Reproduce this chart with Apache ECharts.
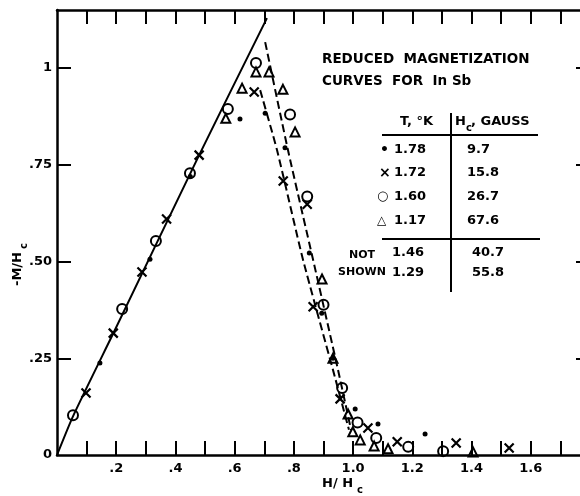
<!DOCTYPE html>
<html>
<head>
<meta charset="utf-8">
<script src="https://cdn.jsdelivr.net/npm/echarts@6/dist/echarts.min.js"></script>
<style>html,body{margin:0;padding:0;background:#fff}#c{width:580px;height:496px}</style>
</head>
<body>
<div id="c"></div>
<script>
// ---- data (H/Hc, -M/Hc) ----
var xTicks = [0.1,0.2,0.3,0.4,0.5,0.6,0.7,0.8,0.9,1.0,1.1,1.2,1.3,1.4,1.5,1.6,1.7];
var xLabels = [0.2,0.4,0.6,0.8,1.0,1.2,1.4,1.6];
var yTicks = [0.25,0.5,0.75,1];
var yLabels = [0,0.25,0.5,0.75,1];

var dots178 = [[0.145,0.238],[0.314,0.506],[0.45,0.72],[0.618,0.868],[0.703,0.883],[0.77,0.794],[0.852,0.522],[0.894,0.366],[0.932,0.25],[1.007,0.119],[1.084,0.08],[1.243,0.054]];
var cross172 = [[0.098,0.16],[0.19,0.315],[0.287,0.473],[0.37,0.61],[0.48,0.775],[0.666,0.938],[0.764,0.708],[0.845,0.648],[0.865,0.383],[0.956,0.145],[1.05,0.07],[1.149,0.034],[1.348,0.031],[1.527,0.018]];
var circle160 = [[0.054,0.103],[0.22,0.377],[0.334,0.553],[0.449,0.728],[0.577,0.894],[0.672,1.013],[0.787,0.88],[0.845,0.668],[0.9,0.388],[0.963,0.173],[1.015,0.084],[1.078,0.044],[1.186,0.021],[1.304,0.01]];
var tri117 = [[0.57,0.87],[0.625,0.948],[0.672,0.99],[0.716,0.99],[0.763,0.945],[0.804,0.835],[0.895,0.455],[0.932,0.25],[0.983,0.106],[0.999,0.06],[1.024,0.039],[1.071,0.023],[1.118,0.016],[1.405,0.008]];
var solidLine = [[0,0],[0.054,0.1],[0.2,0.33],[0.48,0.775],[0.709,1.129]];
var dashLeft = [[0.686,0.943],[0.743,0.788],[0.831,0.504],[0.932,0.22],[0.986,0.065]];
var dashRight = [[0.703,1.067],[0.78,0.788],[0.865,0.504],[0.949,0.22],[0.993,0.065]];

var chart = echarts.init(document.getElementById('c'), null, {renderer:'canvas'});
var F = '"DejaVu Sans", sans-serif';
var axLine = {show:true, onZero:false, lineStyle:{color:'#000', width:2.5}};
var tick = {show:true, inside:true, length:14, lineStyle:{color:'#000', width:2}};
function fmtX(v){ return v < 1 ? '.' + Math.round(v*10) : v.toFixed(1); }
function fmtY(v){ if (v===0) return '0'; if (v===1) return '1'; return '.' + String(Math.round(v*100)).padStart(2,'0'); }
var open = {color:'rgba(0,0,0,0)', borderColor:'#000', borderWidth:2, opacity:1};
function txt(t, x, y, size, align){
  return {type:'text', x:x, y:y, style:{text:t, font:'bold '+size+'px '+F, fill:'#000', textAlign:align||'left', textVerticalAlign:'middle'}};
}
var graphics = [
  txt('REDUCED  MAGNETIZATION', 322, 59, 13.5),
  txt('CURVES  FOR  In Sb', 322, 81, 13.5),
  txt('T, °K', 400, 122, 13),
  txt('H', 455, 122, 13),
  txt('c', 466, 128, 10),
  txt(', GAUSS', 471, 122, 13),
  txt('•', 380, 150, 14), txt('1.78', 394, 150, 13), txt('9.7', 467, 150, 13),
  txt('×', 379, 173, 14), txt('1.72', 394, 173, 13), txt('15.8', 467, 173, 13),
  txt('○', 377, 197, 13), txt('1.60', 394, 197, 13), txt('26.7', 467, 197, 13),
  txt('△', 377, 221, 12), txt('1.17', 394, 221, 13), txt('67.6', 467, 221, 13),
  txt('NOT', 362, 255, 11, 'center'), txt('SHOWN', 362, 272, 11, 'center'),
  txt('1.46', 392, 253, 13), txt('40.7', 472, 253, 13),
  txt('1.29', 392, 273, 13), txt('55.8', 472, 273, 13),
  {type:'line', shape:{x1:382,y1:135,x2:538,y2:135}, style:{stroke:'#000', lineWidth:2}},
  {type:'line', shape:{x1:382,y1:239,x2:540,y2:239}, style:{stroke:'#000', lineWidth:2}},
  {type:'line', shape:{x1:451,y1:113,x2:451,y2:292}, style:{stroke:'#000', lineWidth:2}},
  txt('H/ H', 322, 484, 13),
  txt('c', 357, 490, 10),
  {type:'group', x:18, y:256, rotation:Math.PI/2, children:[
    {type:'text', x:-30, y:0, style:{text:'-M/H', font:'bold 13px '+F, fill:'#000', textAlign:'left', textVerticalAlign:'middle'}},
    {type:'text', x:7, y:6, style:{text:'c', font:'bold 10px '+F, fill:'#000', textAlign:'left', textVerticalAlign:'middle'}}
  ]}
];

var option = {
  animation:false,
  backgroundColor:'#fff',
  grid:{left:57, top:10, width:533, height:445, containLabel:false, outerBoundsMode:'none'},
  xAxis:[
    {type:'value', min:0, max:1.8, interval:0.1, position:'bottom', axisLine:axLine,
     axisTick:Object.assign({customValues:xTicks}, tick), splitLine:{show:false},
     axisLabel:{customValues:xLabels, formatter:fmtX, color:'#000', fontSize:13, fontWeight:'bold', fontFamily:F, margin:7}},
    {type:'value', min:0, max:1.8, interval:0.1, position:'top', axisLine:axLine,
     axisTick:Object.assign({customValues:xTicks}, tick), splitLine:{show:false}, axisLabel:{show:false}}
  ],
  yAxis:[
    {type:'value', min:0, max:1.15, interval:0.25, position:'left', axisLine:axLine,
     axisTick:Object.assign({customValues:yTicks}, tick), splitLine:{show:false},
     axisLabel:{customValues:yLabels, formatter:fmtY, color:'#000', fontSize:13, fontWeight:'bold', fontFamily:F, margin:5}},
    {type:'value', min:0, max:1.15, interval:0.25, position:'right', axisLine:axLine,
     axisTick:Object.assign({customValues:yTicks}, tick), splitLine:{show:false}, axisLabel:{show:false}}
  ],
  series:[
    {type:'line', data:solidLine, smooth:0.2, showSymbol:false, lineStyle:{color:'#000', width:2}, z:1},
    {type:'line', data:dashLeft, smooth:0.2, showSymbol:false, lineStyle:{color:'#000', width:2, type:[8,4]}, z:1},
    {type:'line', data:dashRight, smooth:0.2, showSymbol:false, lineStyle:{color:'#000', width:2, type:[8,4]}, z:1},
    {type:'scatter', name:'1.78', data:dots178, symbol:'circle', symbolSize:5, itemStyle:{color:'#000', opacity:1}, z:3},
    {type:'scatter', name:'1.72', data:cross172, symbol:'path://M0,0L10,10M10,0L0,10', symbolSize:9, itemStyle:{color:'rgba(0,0,0,0)', borderColor:'#000', borderWidth:2.2, opacity:1}, z:3},
    {type:'scatter', name:'1.60', data:circle160, symbol:'circle', symbolSize:10, itemStyle:open, z:3},
    {type:'scatter', name:'1.17', data:tri117, symbol:'triangle', symbolSize:9, itemStyle:open, z:3}
  ],
  graphic:graphics
};
chart.setOption(option);
</script>
</body>
</html>
